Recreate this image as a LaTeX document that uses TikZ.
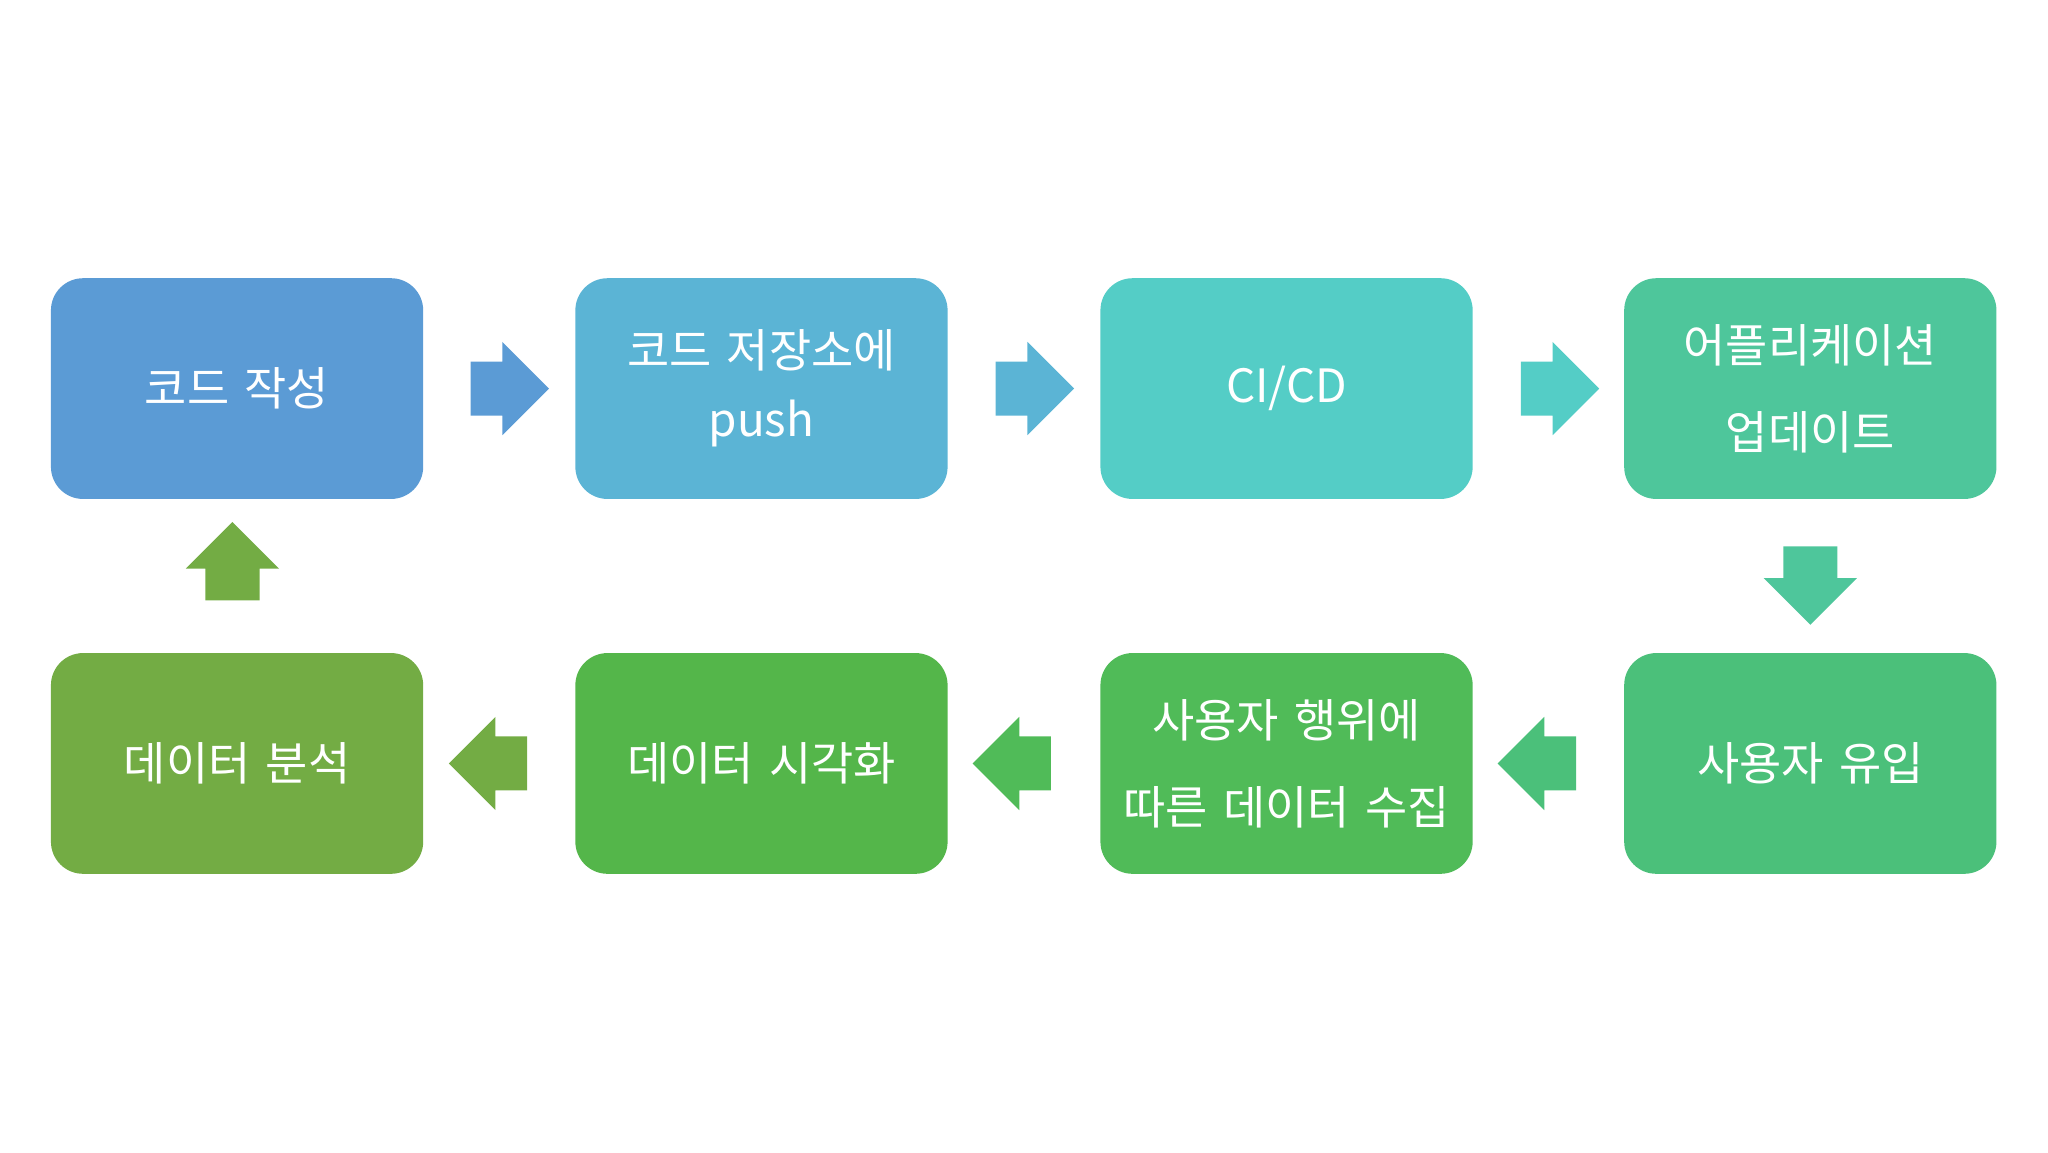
\documentclass[tikz,border=0pt]{standalone}
\usepackage{fontspec}
\setmainfont{Noto Sans CJK KR}
\usetikzlibrary{positioning,shapes.arrows}
\definecolor{cA}{RGB}{91,155,213}
\definecolor{cB}{RGB}{91,180,213}
\definecolor{cC}{RGB}{84,205,198}
\definecolor{cD}{RGB}{78,198,155}
\definecolor{cE}{RGB}{75,192,122}
\definecolor{cF}{RGB}{80,187,88}
\definecolor{cG}{RGB}{84,182,74}
\definecolor{cH}{RGB}{115,172,68}
\tikzset{
  stage/.style={rectangle,rounded corners=7pt,minimum width=2.85cm,minimum height=1.69cm,
    text width=2.7cm,inner sep=0pt,text=white,align=center,font=\fontsize{10}{19}\selectfont},
  blk/.style={single arrow,draw=none,minimum height=0.6cm,minimum width=0.7cm,
    single arrow head extend=0.15cm,single arrow head indent=0pt,
    inner xsep=0pt,inner ysep=0.2cm,font=\tiny}
}
\begin{document}
\begin{tikzpicture}
    \useasboundingbox (0,0) rectangle (15.68,8.82);
    \node[stage,fill=cA] (code)   at (1.815,5.845) {코드 작성};
    \node[stage,fill=cB] (push)   at (5.83,5.845)  {코드 저장소에\\[-4pt]push};
    \node[stage,fill=cC] (cicd)   at (9.85,5.845)  {CI/CD};
    \node[stage,fill=cD] (update) at (13.86,5.845) {어플리케이션\\업데이트};
    \node[stage,fill=cE] (inflow) at (13.86,2.975) {사용자 유입};
    \node[stage,fill=cF] (collect) at (9.85,2.975) {사용자 행위에\\따른 데이터 수집};
    \node[stage,fill=cG] (visual) at (5.83,2.975)  {데이터 시각화};
    \node[stage,fill=cH] (analyze) at (1.815,2.975) {데이터 분석};

    \node[blk,fill=cA] (a1) at (3.8,5.845)  {};
    \node[blk,fill=cB] (a2) at (7.82,5.845) {};
    \node[blk,fill=cC] (a3) at (11.84,5.845) {};
    \node[blk,fill=cD,rotate=-90] (a4) at (13.86,4.44) {};
    \node[blk,fill=cE,rotate=180] (a5) at (11.87,2.975) {};
    \node[blk,fill=cF,rotate=180] (a6) at (7.85,2.975) {};
    \node[blk,fill=cH,rotate=180] (a7) at (3.84,2.975) {};
    \node[blk,fill=cH,rotate=90] (a8) at (1.78,4.42) {};
\end{tikzpicture}
\end{document}
